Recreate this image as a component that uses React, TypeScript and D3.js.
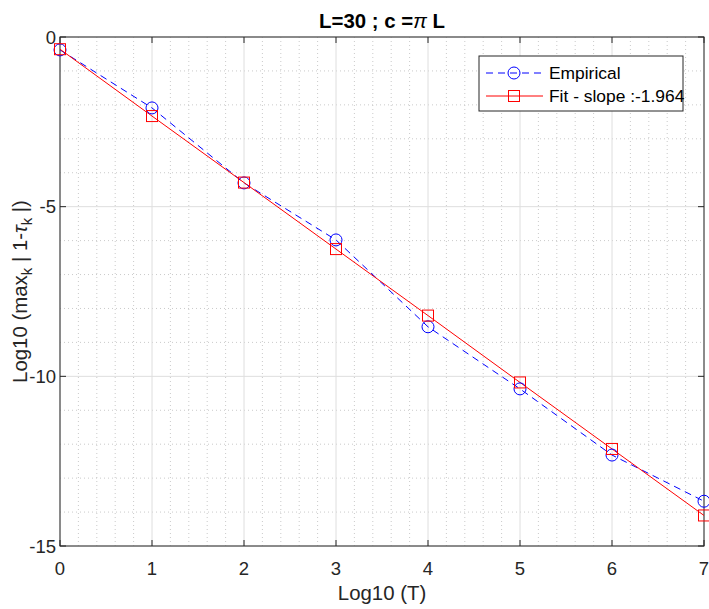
import React from "react";
import * as d3 from "d3";

const xValues = [0, 1, 2, 3, 4, 5, 6, 7];
const empirical = [-0.38, -2.09, -4.3, -5.98, -8.54, -10.37, -12.32, -13.68];
const fitValues = [-0.36, -2.33, -4.29, -6.25, -8.21, -10.18, -12.14, -14.1];
const xTicks = [0, 1, 2, 3, 4, 5, 6, 7];
const yTicks = [0, -5, -10, -15];
const legendLabels = ["Empirical", "Fit - slope :-1.964"];

export default function App() {
  const W = 709, H = 609;
  const left = 60, right = 704, top = 37, bottom = 546;
  const x = d3.scaleLinear().domain([0, 7]).range([left, right]);
  const y = d3.scaleLinear().domain([-15, 0]).range([bottom, top]);
  const axisColor = "#262626";
  const font = "'Liberation Sans', Arial, sans-serif";

  const xMinor = d3.range(0, 7.0001, 0.2).filter((v) => Math.abs(v - Math.round(v)) > 1e-6);
  const yMinor = d3.range(-15, 0.0001, 1).filter((v) => v % 5 !== 0);

  const line = d3.line<number>().x((_, i) => x(xValues[i])).y((d) => y(d));

  return (
    <svg width={W} height={H} style={{ position: "absolute", left: 0, top: 0, background: "#fff" }}>
      <rect x={0} y={0} width={W} height={H} fill="#fff" />
      <rect x={left} y={top} width={right - left} height={bottom - top} fill="#fff" />
      {/* minor grid */}
      {xMinor.map((v) => (
        <line key={"xm" + v} x1={x(v)} x2={x(v)} y1={top} y2={bottom} stroke="#bdbdbd" strokeWidth={0.8} strokeDasharray="1,3" />
      ))}
      {yMinor.map((v) => (
        <line key={"ym" + v} x1={left} x2={right} y1={y(v)} y2={y(v)} stroke="#bdbdbd" strokeWidth={0.8} strokeDasharray="1,3" />
      ))}
      {/* major grid */}
      {xTicks.map((v) => (
        <line key={"xg" + v} x1={x(v)} x2={x(v)} y1={top} y2={bottom} stroke="#dedede" strokeWidth={1} />
      ))}
      {yTicks.map((v) => (
        <line key={"yg" + v} x1={left} x2={right} y1={y(v)} y2={y(v)} stroke="#dedede" strokeWidth={1} />
      ))}
      {/* axes box */}
      <rect x={left} y={top} width={right - left} height={bottom - top} fill="none" stroke={axisColor} strokeWidth={1} />
      {xTicks.map((v) => (
        <g key={"xt" + v}>
          <line x1={x(v)} x2={x(v)} y1={bottom} y2={bottom - 6} stroke={axisColor} />
          <line x1={x(v)} x2={x(v)} y1={top} y2={top + 6} stroke={axisColor} />
          <text x={x(v)} y={bottom + 29} textAnchor="middle" fontFamily={font} fontSize={18.5} fill={axisColor}>{v}</text>
        </g>
      ))}
      {yTicks.map((v) => (
        <g key={"yt" + v}>
          <line x1={left} x2={left + 6} y1={y(v)} y2={y(v)} stroke={axisColor} />
          <line x1={right} x2={right - 6} y1={y(v)} y2={y(v)} stroke={axisColor} />
          <text x={left - 4} y={y(v) + 6.5} textAnchor="end" fontFamily={font} fontSize={18.5} fill={axisColor}>{v === 0 ? "0" : v}</text>
        </g>
      ))}
      {/* data */}
      <path d={line(empirical) || ""} fill="none" stroke="#0000ff" strokeWidth={1} strokeDasharray="7,5" />
      <path d={line(fitValues) || ""} fill="none" stroke="#ff0000" strokeWidth={1} />
      {empirical.map((v, i) => (
        <circle key={"c" + i} cx={x(xValues[i])} cy={y(v)} r={6} fill="none" stroke="#0000ff" strokeWidth={1} />
      ))}
      {fitValues.map((v, i) => (
        <rect key={"s" + i} x={x(xValues[i]) - 5.5} y={y(v) - 5.5} width={11} height={11} fill="none" stroke="#ff0000" strokeWidth={1} />
      ))}
      {/* title */}
      <text x={(left + right) / 2} y={28} textAnchor="middle" fontFamily={font} fontSize={20.4} fontWeight="bold" fill="#000">
        L=30 ; c =<tspan fontStyle="italic" fontWeight="normal">π</tspan> L
      </text>
      {/* axis labels */}
      <text x={(left + right) / 2} y={600} textAnchor="middle" fontFamily={font} fontSize={20.4} fill={axisColor}>Log10 (T)</text>
      <text transform={`translate(27,${(top + bottom) / 2}) rotate(-90)`} textAnchor="middle" fontFamily={font} fontSize={20.4} fill={axisColor}>
        Log10 (max<tspan dy={5} fontSize={15}>k</tspan><tspan dy={-5}> | 1-</tspan><tspan fontStyle="italic">τ</tspan><tspan dy={5} fontSize={15}>k</tspan><tspan dy={-5}> |)</tspan>
      </text>
      {/* legend */}
      <rect x={479} y={56} width={204} height={55} fill="#fff" stroke={axisColor} strokeWidth={1} />
      <line x1={486} x2={543} y1={73} y2={73} stroke="#0000ff" strokeDasharray="7,5" />
      <circle cx={514} cy={73} r={6} fill="none" stroke="#0000ff" />
      <text x={549} y={79} fontFamily={font} fontSize={17.4} fill="#000">{legendLabels[0]}</text>
      <line x1={486} x2={543} y1={96} y2={96} stroke="#ff0000" />
      <rect x={508.5} y={90.5} width={11} height={11} fill="none" stroke="#ff0000" />
      <text x={549} y={102} fontFamily={font} fontSize={17.4} fill="#000">{legendLabels[1]}</text>
    </svg>
  );
}
